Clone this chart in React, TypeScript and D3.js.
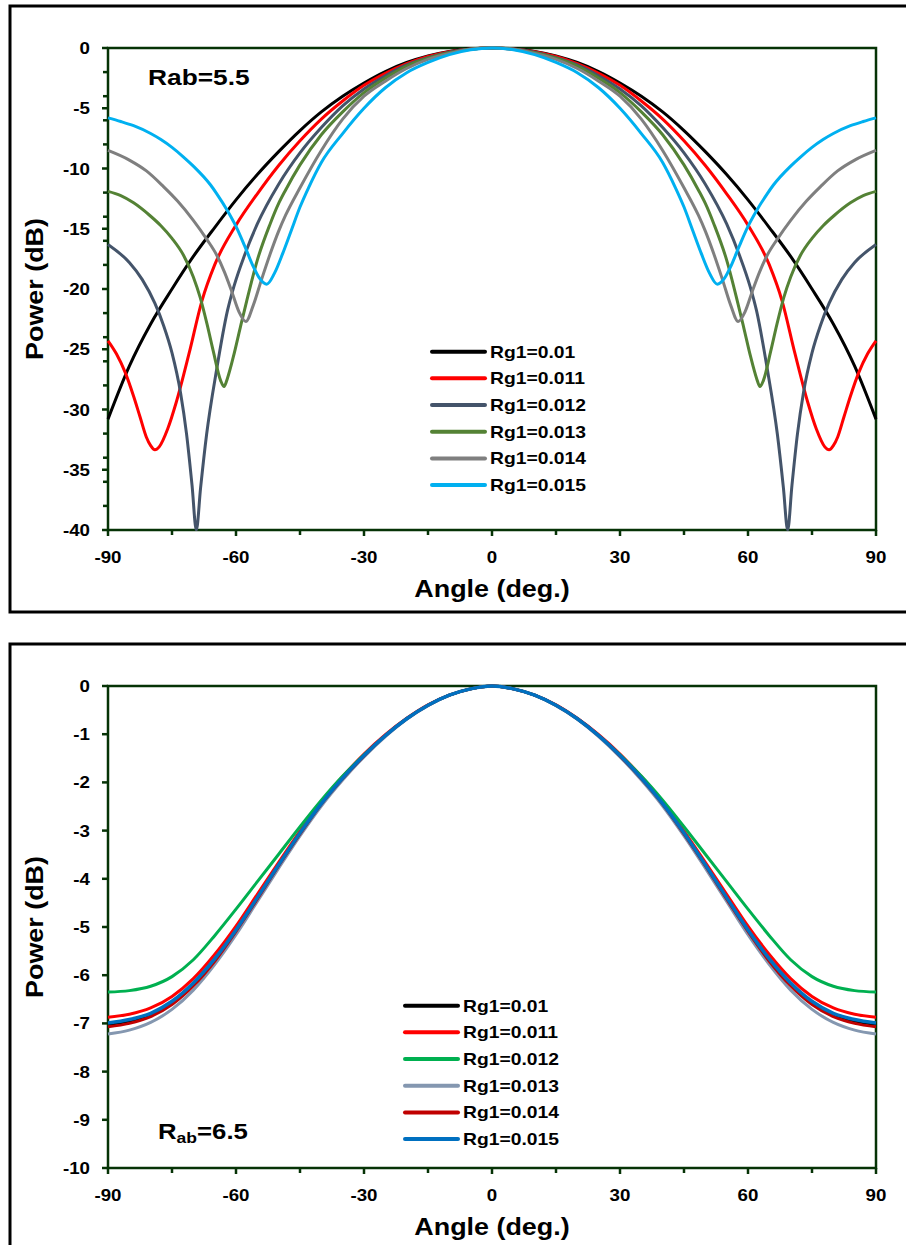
import React from "react";
import * as d3 from "d3";

// ---- data (right half, pattern is symmetric about 0 deg) ----
const xMajor = [-90, -60, -30, 0, 30, 60, 90];
const xMinor = [-75, -45, -15, 15, 45, 75];

const topYMajor = [0, -5, -10, -15, -20, -25, -30, -35, -40];
const topYMinor = [-2, -4, -6, -8, -12, -14, -16, -18, -22, -24, -26, -28, -32, -34, -36, -38];
const botYMajor = [0, -1, -2, -3, -4, -5, -6, -7, -8, -9, -10];

const topNames = ["Rg1=0.01", "Rg1=0.011", "Rg1=0.012", "Rg1=0.013", "Rg1=0.014", "Rg1=0.015"];
const botNames = ["Rg1=0.01", "Rg1=0.011", "Rg1=0.012", "Rg1=0.013", "Rg1=0.014", "Rg1=0.015"];

// Rab = 5.5
const a001 = [0, 5, 10, 15, 20, 25, 30, 35, 40, 45, 50, 55, 60, 65, 70, 75, 80, 85, 90];
const p001 = [0, -0.07, -0.28, -0.65, -1.2, -1.95, -2.9, -4.0, -5.3, -6.85, -8.6, -10.5, -12.6, -14.9, -17.3, -20.0, -22.9, -26.4, -30.8];

const a011 = [0, 5, 10, 15, 20, 25, 30, 35, 40, 45, 50, 55, 60, 65, 68, 71, 74, 76, 78, 79, 80, 81, 82.5, 84, 86, 88, 90];
const p011 = [0, -0.08, -0.3, -0.7, -1.3, -2.1, -3.1, -4.4, -5.9, -7.7, -9.75, -12.1, -14.7, -18.0, -21.0, -25.35, -29.4, -31.6, -33.1, -33.35, -33.0, -32.3, -30.6, -28.9, -26.9, -25.4, -24.3];

const a012 = [0, 5, 10, 15, 20, 25, 30, 35, 40, 45, 50, 55, 58, 60.5, 62, 64.5, 66.9, 68.3, 69.3, 70.3, 71.6, 73, 75, 77, 79, 82, 85, 90];
const p012 = [0, -0.09, -0.35, -0.8, -1.4, -2.3, -3.4, -4.8, -6.6, -8.7, -11.3, -14.6, -17.2, -19.8, -21.8, -26.6, -32.1, -36.5, -40, -36.3, -32.0, -28.6, -25.3, -23.0, -21.2, -19.2, -17.8, -16.3];

const a013 = [0, 5, 10, 15, 20, 25, 30, 35, 40, 45, 48.4, 50, 52, 55, 57.5, 59, 60.6, 62, 62.8, 63.6, 65.3, 66.8, 68.4, 70, 72.3, 75, 77.6, 80.2, 84, 87, 90];
const p013 = [0, -0.1, -0.4, -0.85, -1.5, -2.5, -3.7, -5.3, -7.2, -9.7, -11.8, -12.9, -14.6, -17.6, -21.0, -23.2, -25.6, -27.4, -28.1, -27.6, -25.2, -22.9, -20.7, -19.0, -17.2, -15.8, -14.75, -13.9, -12.85, -12.25, -11.9];

const a014 = [0, 5, 10, 15, 20, 25, 30, 35, 40, 45, 48.4, 50, 52, 54, 56, 57.7, 59.3, 61, 62.7, 64.5, 66.8, 70, 73.7, 77, 81, 85, 90];
const p014 = [0, -0.11, -0.45, -0.95, -1.7, -2.75, -4.0, -5.9, -8.5, -11.6, -13.9, -15.2, -17.1, -19.2, -21.4, -22.7, -21.9, -20.2, -18.6, -17.2, -15.9, -14.3, -12.7, -11.5, -10.2, -9.3, -8.5];

const a015 = [0, 5, 10, 15, 20, 25, 30, 35, 40, 43, 45, 47, 49, 51, 52.8, 54.5, 56, 58, 60, 62, 64.5, 66, 70, 72.3, 75, 77.6, 80, 84, 87, 90];
const p015 = [0, -0.15, -0.55, -1.2, -2.05, -3.3, -5.0, -7.1, -9.5, -11.6, -13.2, -15.1, -17.0, -18.7, -19.6, -19.1, -18.1, -16.4, -14.8, -13.5, -12.1, -11.35, -9.8, -9.05, -8.25, -7.6, -7.1, -6.45, -6.1, -5.8];

// Rab = 6.5
const botAngles = [0, 5, 10, 15, 20, 25, 30, 35, 40, 45, 50, 55, 60, 65, 70, 75, 80, 85, 90];
const q001 = [0, -0.06, -0.19, -0.4, -0.68, -1.03, -1.44, -1.91, -2.44, -3.05, -3.71, -4.39, -5.06, -5.67, -6.18, -6.56, -6.81, -6.95, -7.02];
const q011 = [0, -0.06, -0.19, -0.39, -0.67, -1.01, -1.41, -1.88, -2.4, -3.01, -3.66, -4.32, -4.98, -5.57, -6.07, -6.44, -6.68, -6.81, -6.87];
const q012 = [0, -0.06, -0.19, -0.4, -0.68, -1.03, -1.43, -1.87, -2.37, -2.92, -3.49, -4.06, -4.63, -5.18, -5.68, -6.03, -6.23, -6.32, -6.35];
const q013 = [0, -0.06, -0.19, -0.41, -0.69, -1.05, -1.47, -1.95, -2.49, -3.11, -3.78, -4.47, -5.16, -5.78, -6.31, -6.71, -6.98, -7.14, -7.22];
const q014 = [0, -0.06, -0.19, -0.4, -0.68, -1.03, -1.45, -1.92, -2.45, -3.07, -3.73, -4.42, -5.09, -5.71, -6.22, -6.61, -6.86, -7.0, -7.07];
const q015 = [0, -0.06, -0.19, -0.4, -0.68, -1.03, -1.44, -1.91, -2.44, -3.05, -3.71, -4.39, -5.06, -5.66, -6.16, -6.54, -6.79, -6.92, -6.99];

const topColors = ["#000000", "#ff0000", "#44546a", "#548235", "#7f7f7f", "#00b0f0"];
const botColors = ["#000000", "#ff0000", "#00b050", "#8497b0", "#c00000", "#0070c0"];

const AXIS = "#063306";
const FONT = "'Liberation Sans', Arial, sans-serif";
const SX = 1.17; // the original text is rendered wide

const mirror = (a: number[], v: number[]): [number, number][] => {
  const right = a.map((x, i) => [x, v[i]] as [number, number]);
  const left = right.slice(1).reverse().map(([x, y]) => [-x, y] as [number, number]);
  return [...left, ...right];
};

const topSeries = [
  mirror(a001, p001), mirror(a011, p011), mirror(a012, p012),
  mirror(a013, p013), mirror(a014, p014), mirror(a015, p015),
];
const botSeries = [q001, q011, q012, q013, q014, q015].map((v) => mirror(botAngles, v));

const Txt = ({ x, y, size, anchor = "start", rotate = 0, children }: any) => (
  <text
    transform={`translate(${x},${y})${rotate ? ` rotate(${rotate})` : ""} scale(${SX},1)`}
    fontSize={size}
    fontWeight="bold"
    fontFamily={FONT}
    textAnchor={anchor}
    fill="#000"
  >
    {children}
  </text>
);

const Panel = ({ id, top, bottom, yDomain, yMajor, yMinor, series, colors, names, legendX, legendY, lineW }: any) => {
  const left = 108, right = 876;
  const x = d3.scaleLinear().domain([-90, 90]).range([left, right]);
  const y = d3.scaleLinear().domain(yDomain).range([bottom, top]);
  const line = d3.line<[number, number]>()
    .x((d) => x(d[0]))
    .y((d) => y(d[1]))
    .curve(d3.curveMonotoneX);

  return (
    <g>
      <defs>
        <clipPath id={`clip-${id}`}>
          <rect x={left - 3} y={top - 3} width={right - left + 6} height={bottom - top + 4} />
        </clipPath>
      </defs>
      {/* plot frame */}
      <rect x={left} y={top} width={right - left} height={bottom - top} fill="none" stroke={AXIS} strokeWidth={2.5} />
      {/* y ticks */}
      {yMajor.map((t: number) => (
        <g key={`ym${t}`}>
          <line x1={left - 6} x2={left} y1={y(t)} y2={y(t)} stroke={AXIS} strokeWidth={2.5} />
          <Txt x={90} y={y(t) + 6} size={16} anchor="end">{t}</Txt>
        </g>
      ))}
      {yMinor.map((t: number) => (
        <line key={`yn${t}`} x1={left - 5} x2={left} y1={y(t)} y2={y(t)} stroke={AXIS} strokeWidth={2.5} />
      ))}
      {/* x ticks */}
      {xMajor.map((t) => (
        <g key={`xm${t}`}>
          <line x1={x(t)} x2={x(t)} y1={bottom} y2={bottom + 6} stroke={AXIS} strokeWidth={2.5} />
          <Txt x={x(t)} y={bottom + 33} size={16} anchor="middle">{t}</Txt>
        </g>
      ))}
      {xMinor.map((t) => (
        <line key={`xn${t}`} x1={x(t)} x2={x(t)} y1={bottom} y2={bottom + 5} stroke={AXIS} strokeWidth={2.5} />
      ))}
      {/* curves */}
      <g clipPath={`url(#clip-${id})`}>
        {series.map((s: [number, number][], i: number) => (
          <path key={i} d={line(s) || ""} fill="none" stroke={colors[i]} strokeWidth={lineW[i]} strokeLinejoin="round" />
        ))}
      </g>
      {/* legend */}
      {names.map((n: string, i: number) => {
        const ly = legendY + i * 26.67;
        return (
          <g key={n + i}>
            <line x1={legendX} x2={legendX + 53} y1={ly} y2={ly} stroke={colors[i]} strokeWidth={4} strokeLinecap="round" />
            <Txt x={legendX + 58} y={ly + 6} size={16.5}>{n}</Txt>
          </g>
        );
      })}
      {/* axis titles */}
      <Txt x={43} y={(top + bottom) / 2} size={23} anchor="middle" rotate={-90}>Power (dB)</Txt>
      <Txt x={(left + right) / 2} y={bottom + 67} size={23} anchor="middle">Angle (deg.)</Txt>
    </g>
  );
};

export default function App() {
  return (
    <div style={{ position: "absolute", left: 0, top: 0 }}>
      <svg width={906} height={1245} style={{ display: "block", background: "#fff" }}>
        {/* outer frames */}
        <rect x={10} y={6} width={920} height={606} fill="none" stroke="#000" strokeWidth={3} />
        <rect x={10} y={644} width={920} height={640} fill="none" stroke="#000" strokeWidth={3} />

        <Panel
          id="top"
          top={48}
          bottom={530}
          yDomain={[-40, 0]}
          yMajor={topYMajor}
          yMinor={topYMinor}
          series={topSeries}
          colors={topColors}
          names={topNames}
          legendX={432}
          legendY={351.7}
          lineW={[3, 3, 3, 3, 3, 3]}
        />
        <Txt x={148} y={85} size={22.5}>Rab=5.5</Txt>

        <Panel
          id="bot"
          top={686}
          bottom={1168}
          yDomain={[-10, 0]}
          yMajor={botYMajor}
          yMinor={[]}
          series={botSeries}
          colors={botColors}
          names={botNames}
          legendX={405}
          legendY={1005.7}
          lineW={[3, 3, 3, 3, 3, 3.5]}
        />
        <text transform={`translate(158,1139) scale(${SX},1)`} fontSize={22} fontWeight="bold" fontFamily={FONT}>
          R<tspan fontSize={15} dy={4}>ab</tspan><tspan dy={-4}>=6.5</tspan>
        </text>
      </svg>
    </div>
  );
}
